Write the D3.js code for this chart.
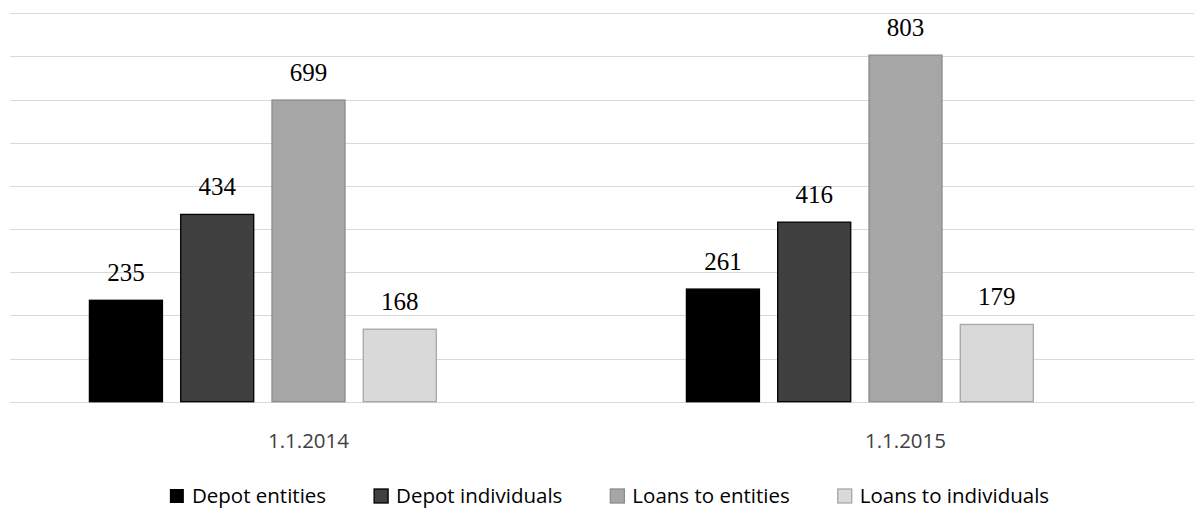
<!DOCTYPE html>
<html>
<head>
<meta charset="utf-8">
<script src="https://cdn.jsdelivr.net/npm/d3@7"></script>
<style>
  html, body { margin: 0; padding: 0; background: #fff; }
  svg { display: block; }
</style>
</head>
<body>
<svg id="chart" width="1194" height="508"></svg>
<script>
const categories = ["1.1.2014", "1.1.2015"];
const seriesNames = ["Depot entities", "Depot individuals", "Loans to entities", "Loans to individuals"];
const depotEntities = [235, 261];
const depotIndividuals = [434, 416];
const loansEntities = [699, 803];
const loansIndividuals = [168, 179];
const yTicks = [0, 100, 200, 300, 400, 500, 600, 700, 800, 900];

const seriesValues = [depotEntities, depotIndividuals, loansEntities, loansIndividuals];
const fills = ["#000000", "#404040", "#a6a6a6", "#d9d9d9"];
const strokes = ["#000000", "#000000", "#8c8c8c", "#a6a6a6"];

const svg = d3.select("#chart");
const W = 1194, H = 508;

const x0 = d3.scaleBand().domain(categories).range([10, 1204]).paddingInner(0).paddingOuter(0);
// five slots per category (the last one is empty, as in the original)
const slots = [0, 1, 2, 3, 4];
const x1 = d3.scaleBand().domain(slots).range([0, x0.bandwidth()]).paddingInner(0.2).paddingOuter(0.87);
const y = d3.scaleLinear().domain([0, 900]).range([401.7, 13.3]);

// gridlines
svg.append("g").selectAll("line").data(yTicks).join("line")
  .attr("x1", 10).attr("x2", W)
  .attr("y1", d => Math.round(y(d)) + 0.5).attr("y2", d => Math.round(y(d)) + 0.5)
  .attr("stroke", "#d9d9d9").attr("stroke-width", 1);

// bars
const data = [];
categories.forEach((c, ci) => {
  seriesValues.forEach((arr, si) => {
    data.push({ cat: c, s: si, v: arr[ci] });
  });
});

const bars = svg.append("g");
bars.selectAll("rect").data(data).join("rect")
  .attr("x", d => x0(d.cat) + x1(d.s))
  .attr("y", d => y(d.v))
  .attr("width", x1.bandwidth())
  .attr("height", d => y(0) - y(d.v))
  .attr("fill", d => fills[d.s])
  .attr("stroke", d => strokes[d.s])
  .attr("stroke-width", 1.3);

// value labels
svg.append("g").selectAll("text").data(data).join("text")
  .attr("x", d => x0(d.cat) + x1(d.s) + x1.bandwidth() / 2)
  .attr("y", d => y(d.v) - 19)
  .attr("text-anchor", "middle")
  .attr("font-family", "'Liberation Serif', 'Times New Roman', serif")
  .attr("font-size", 25)
  .attr("fill", "#000")
  .text(d => d.v);

// category axis labels
svg.append("g").selectAll("text").data(categories).join("text")
  .attr("x", d => x0(d) + x0.bandwidth() / 2)
  .attr("y", 447.5)
  .attr("text-anchor", "middle")
  .attr("font-family", "'Open Sans', sans-serif")
  .attr("font-size", 20.5)
  .attr("fill", "#404040")
  .text(d => d);

// legend
const legend = svg.append("g");
const items = legend.selectAll("g").data(seriesNames).join("g");
items.append("rect")
  .attr("width", 14).attr("height", 14)
  .attr("y", 489)
  .attr("fill", (d, i) => fills[i])
  .attr("stroke", (d, i) => i === 0 ? "none" : (i === 1 ? "#000" : strokes[i]))
  .attr("stroke-width", 1.3);
items.append("text")
  .attr("x", 22)
  .attr("y", 502.5)
  .attr("font-family", "'Open Sans', sans-serif")
  .attr("font-size", 20.5)
  .attr("fill", "#000")
  .text(d => d);
const widths = [];
items.each(function() { widths.push(22 + this.querySelector("text").getComputedTextLength()); });
const gap = 48;
const total = d3.sum(widths) + gap * (widths.length - 1);
let cx = 609.5 - total / 2;
items.each(function(d, i) {
  d3.select(this).attr("transform", `translate(${cx},0)`);
  cx += widths[i] + gap;
});
</script>
</body>
</html>
